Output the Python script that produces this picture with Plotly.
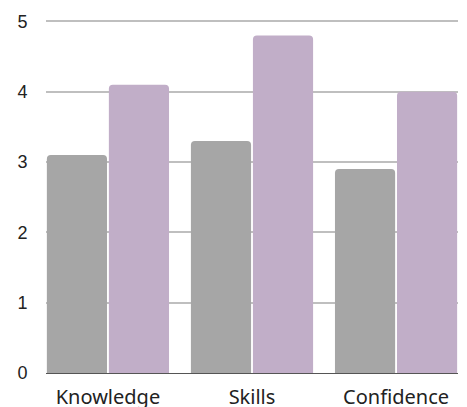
import plotly.graph_objects as go

categories = ["Knowledge", "Skills", "Confidence"]
series_a = [3.1, 3.3, 2.9]
series_b = [4.1, 4.8, 4.0]
y_ticks = [0, 1, 2, 3, 4, 5]

fig = go.Figure()
fig.add_trace(go.Bar(x=categories, y=series_a, marker=dict(color="#a6a6a6", line=dict(width=0)), name="A"))
fig.add_trace(go.Bar(x=categories, y=series_b, marker=dict(color="#c1aec8", line=dict(width=0)), name="B"))

fig.update_layout(
    width=467, height=407,
    margin=dict(l=38, r=17, t=12, b=42),
    paper_bgcolor="white", plot_bgcolor="white",
    barmode="group", bargap=0.139, bargroupgap=0.03,
    barcornerradius=4,
    showlegend=False,
    font=dict(family="Noto Sans", color="#222222"),
)
fig.update_xaxes(
    range=[-0.43, 2.43], showgrid=False, showline=True, linecolor="#555555", linewidth=1,
    ticks="outside", ticklen=6, tickcolor="rgba(0,0,0,0)", automargin=False,
    tickfont=dict(family="Noto Sans", size=20, color="#222222"),
)
fig.update_yaxes(
    range=[0, 5.02], tickvals=y_ticks, showgrid=True, gridcolor="#bfbfbf", gridwidth=1.5,
    zeroline=False, showline=False, automargin=False,
    ticks="outside", ticklen=14, tickcolor="rgba(0,0,0,0)",
    tickfont=dict(family="Liberation Sans", size=18, color="#222222"),
)
fig.write_html("out.html")
